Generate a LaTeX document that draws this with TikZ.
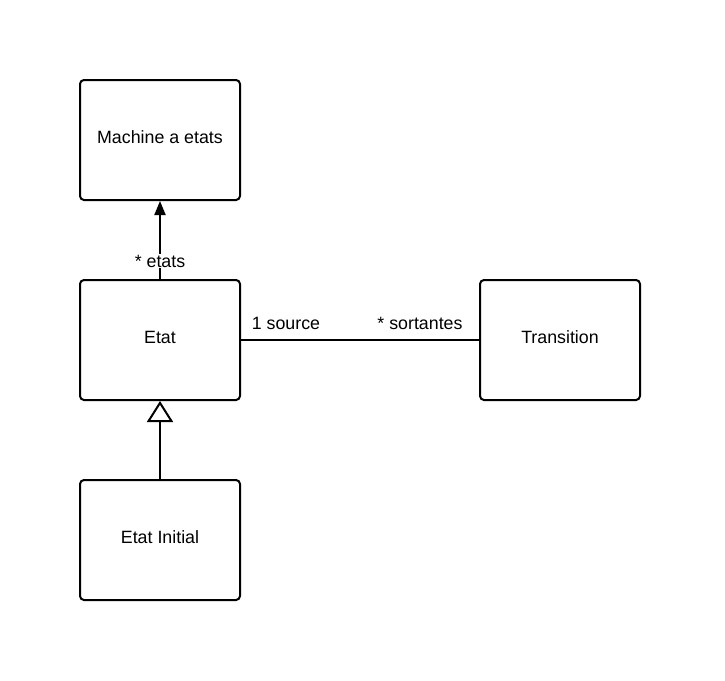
\documentclass[tikz,border=0pt]{standalone}
\usepackage{fontspec}
\setmainfont{Liberation Sans}
\usetikzlibrary{arrows.meta}
\begin{document}
\begin{tikzpicture}[x=1pt,y=-1pt,
  cls/.style={draw,line width=2pt,rounded corners=4pt,minimum width=160pt,minimum height=120pt,inner sep=0pt,text height=6.5pt,text depth=0pt,font=\fontsize{17.8}{20}\selectfont},
  lbl/.style={font=\fontsize{17.8}{20}\selectfont,inner sep=1pt},
  conn/.style={line width=2pt}]
\useasboundingbox (0,0) rectangle (725,680);
\node[cls] (machine) at (160,140) {Machine a etats};
\node[cls] (etat) at (160,340) {Etat};
\node[cls] (init) at (160,540) {Etat Initial};
\node[cls] (trans) at (560,340) {Transition};
% composition of states into the machine
\draw[conn,-{Triangle[length=14pt,width=11pt]}] (etat.north) -- (machine.south);
\node[lbl,fill=white] (etatslbl) at (160,261) {* etats};
% inheritance
\draw[conn,-{Triangle[open,length=21pt,width=26pt]}] (init.north) -- (etat.south);
% association
\draw[conn] (etat.east) -- (trans.west);
\node[lbl] (src) at (286,323) {1 source};
\node[lbl] (sort) at (420,323) {* sortantes};
\end{tikzpicture}
\end{document}
